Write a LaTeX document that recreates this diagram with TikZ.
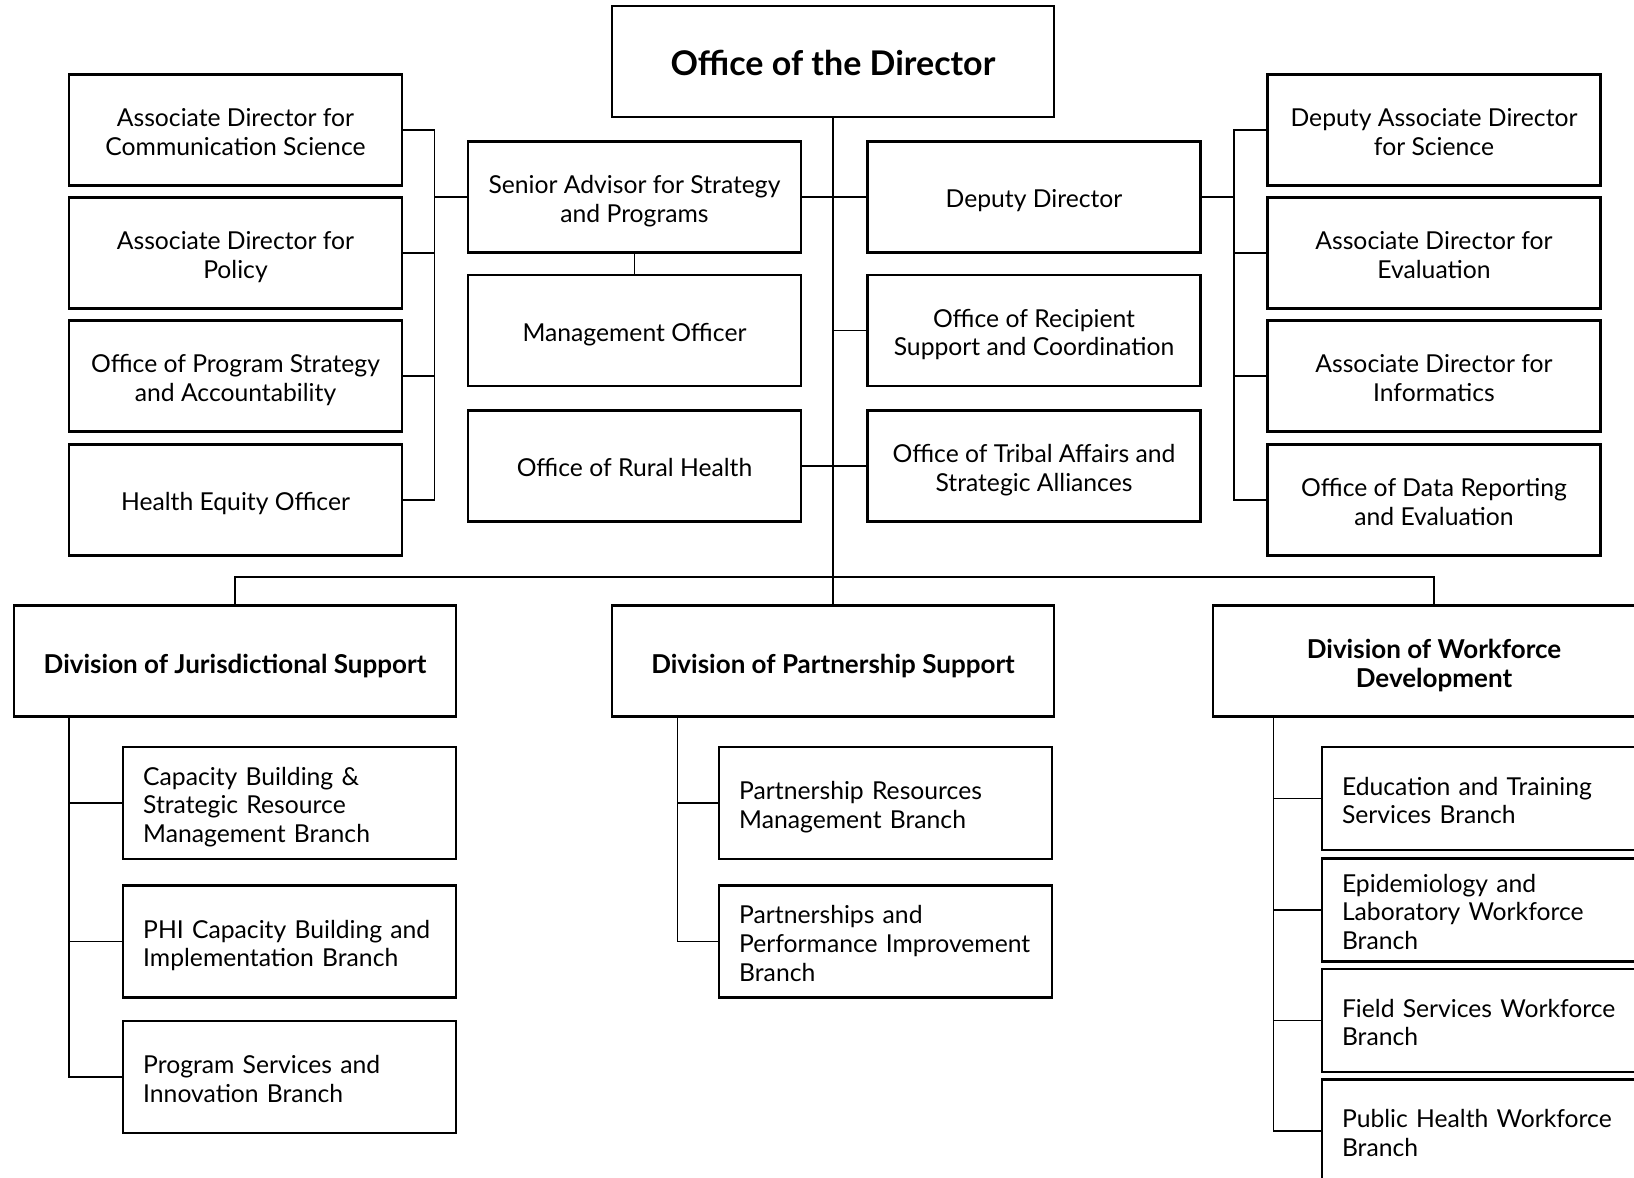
\documentclass[tikz,border=0pt]{standalone}
\usepackage{fontspec}
\setmainfont{Lato}
\newcommand\regtext{\fontsize{24.7}{28.7}\selectfont}
\newcommand\divtext{\fontsize{26}{29}\selectfont\bfseries}
\newcommand\toptext{\fontsize{34}{38}\selectfont\bfseries}
% fixed first-line height and last-line depth, so every label sits at the same height in its box
\newcommand\capstrut[1]{\rule{0pt}{#1}}
\newcommand\descstrut[1]{\rule[-#1]{0pt}{0pt}}
% the font's own word space, without stretch, in centred boxes
\newcommand\naturalspaces{\spaceskip=\fontdimen2\font\relax\xspaceskip=\fontdimen2\font\relax}
\tikzset{
  unit/.style={draw, line width=2.4pt, align=center, inner xsep=10pt, inner ysep=0pt,
               text width=313pt, font=\regtext,
               execute at begin node={\naturalspaces\capstrut{27.7pt}}, execute at end node={\descstrut{6pt}}},
  branch/.style={draw, line width=2.4pt, align=left, inner xsep=20pt, inner ysep=0pt,
                 text width=293pt, font=\regtext, anchor=center,
                 execute at begin node={\capstrut{27.7pt}}, execute at end node={\descstrut{6pt}}},
  divbox/.style={draw, line width=2.4pt, align=center, inner xsep=10pt, inner ysep=0pt,
                 text width=422pt, font=\divtext, minimum height=111pt,
                 execute at begin node={\naturalspaces\capstrut{30.9pt}}, execute at end node={\descstrut{6.3pt}}},
  topbox/.style={draw, line width=2.4pt, align=center, inner sep=0pt, font=\toptext,
                 minimum width=442pt, minimum height=111pt,
                 execute at begin node={\capstrut{36.6pt}}, execute at end node={\descstrut{8.2pt}}},
  link/.style={line width=1.6pt},
}
\begin{document}
\begin{tikzpicture}[x=1pt, y=-1pt]
\useasboundingbox (0,0) rectangle (1634,1178);
\clip (0,0) rectangle (1634,1178);

% top office
\node[topbox] (dir) at (833,61.5) {Office of the Director};

% left staff column
\begin{scope}[every node/.style={unit, minimum height=111pt}]
\node (adc) at (235.5,130) {Associate Director for\\Communication Science};
\node (adp) at (235.5,253) {Associate Director for\\Policy};
\node (ops) at (235.5,376) {Office of Program Strategy\\and Accountability};
\node (heo) at (235.5,500) {Health Equity Officer};
% inner left column
\node (sa)  at (634.5,197)   {Senior Advisor for Strategy\\and Programs};
\node (mo)  at (634.5,330.5) {Management Officer};
\node (orh) at (634.5,466)   {Office of Rural Health};
% inner right column
\node (dd)  at (1034,197)   {Deputy Director};
\node (ors) at (1034,330.5) {Office of Recipient\\Support and Coordination};
\node (ota) at (1034,466)   {Office of Tribal Affairs and\\Strategic Alliances};
% right staff column
\node (das) at (1434,130) {Deputy Associate Director\\for Science};
\node (ade) at (1434,253) {Associate Director for\\Evaluation};
\node (adi) at (1434,376) {Associate Director for\\Informatics};
\node (odr) at (1434,500) {Office of Data Reporting\\and Evaluation};
\end{scope}

% divisions
\node[divbox] (djs) at (235,661) {Division of Jurisdictional Support};
\node[divbox] (dps) at (833,661) {Division of Partnership Support};
\node[divbox] (dwd) at (1434,661) {Division of Workforce\\Development};

% branches
\begin{scope}[every node/.style={branch, minimum height=112pt}]
\node (cb)  at (289.7,803)  {Capacity Building \&\\Strategic Resource\\Management Branch};
\node (phi) at (289.7,941.5) {PHI Capacity Building and\\Implementation Branch};
\node (psi) at (289.7,1077) {Program Services and\\Innovation Branch};
\node (prm) at (885.7,803)  {Partnership Resources\\Management Branch};
\node (ppi) at (885.7,941.5) {Partnerships and\\Performance Improvement\\Branch};
\end{scope}
\begin{scope}[every node/.style={branch, minimum height=103pt}]
\node (etb) at (1488.5,798.5) {Education and Training\\Services Branch};
\node (elw) at (1488.5,910)   {Epidemiology and\\Laboratory Workforce\\Branch};
\node (fsw) at (1488.5,1020.5) {Field Services Workforce\\Branch};
\node (phw) at (1488.5,1131)  {Public Health Workforce\\Branch};
\end{scope}

% trunk and bus positions
\coordinate (lb) at (434.5,0);
\coordinate (rb) at (1233.8,0);
\coordinate (bus) at (0,577);
\coordinate (djsT) at (68.8,717);
\coordinate (dpsT) at (677.4,717);
\coordinate (dwdT) at (1273.5,717);

% connectors
\begin{scope}[link]
\draw (dir.south) -- (dps.north);
\draw (sa.east) -- (dd.west);
\draw (ors.west) -- (ors.west -| dir.south);
\draw (orh.east) -- (ota.west);
\draw (sa.south) -- (mo.north);
% left staff bracket
\draw (adc.east) -- (adc.east -| lb) -- (heo.east -| lb) -- (heo.east);
\draw (adp.east) -- (adp.east -| lb);
\draw (ops.east) -- (ops.east -| lb);
\draw (sa.west) -- (sa.west -| lb);
% right staff bracket
\draw (das.west) -- (das.west -| rb) -- (odr.west -| rb) -- (odr.west);
\draw (ade.west) -- (ade.west -| rb);
\draw (adi.west) -- (adi.west -| rb);
\draw (dd.east) -- (dd.east -| rb);
% division bus
\draw (djs.north) -- (djs.north |- bus) -- (dwd.north |- bus) -- (dwd.north);
% branch trunks
\draw (djsT) |- (psi.west);
\draw (djsT |- cb.west) -- (cb.west);
\draw (djsT |- phi.west) -- (phi.west);
\draw (dpsT) |- (ppi.west);
\draw (dpsT |- prm.west) -- (prm.west);
\draw (dwdT) |- (phw.west);
\draw (dwdT |- etb.west) -- (etb.west);
\draw (dwdT |- elw.west) -- (elw.west);
\draw (dwdT |- fsw.west) -- (fsw.west);
\end{scope}
\end{tikzpicture}
\end{document}
